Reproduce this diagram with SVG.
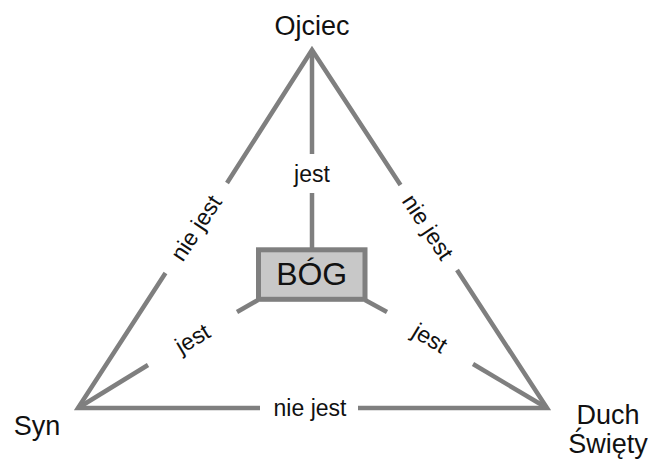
<svg xmlns="http://www.w3.org/2000/svg" width="650" height="461" viewBox="0 0 650 461">
<style>
.ln{stroke:#7f7f7f;stroke-width:4.5;fill:none;stroke-linecap:butt;stroke-linejoin:miter}
.lbl{font-family:"Liberation Sans",Arial,sans-serif;font-size:23px;fill:#111;text-anchor:middle}
.node{font-family:"Liberation Sans",Arial,sans-serif;font-size:27px;fill:#111;text-anchor:middle}
</style>
<rect width="650" height="461" fill="#fff"/>
<g id="connectors">
<polyline class="ln" points="227,183 312,50 400.5,185"/>
<line class="ln" x1="312" y1="50" x2="312" y2="154"/>
<line class="ln" x1="312" y1="193" x2="312" y2="248"/>
<polyline class="ln" points="165.5,273 78,408 260,408"/>
<polyline class="ln" points="457,270 547,408 358,408"/>
<line class="ln" x1="258" y1="300" x2="237" y2="312"/>
<line class="ln" x1="148" y1="365" x2="78" y2="408"/>
<line class="ln" x1="365" y1="300" x2="387" y2="312"/>
<line class="ln" x1="473" y1="364" x2="547" y2="408"/>
<text class="lbl" x="312" y="182">jest</text>
<text class="lbl" transform="translate(196,228) rotate(-56.8)" y="8">nie jest</text>
<text class="lbl" transform="translate(428,227) rotate(56.7)" y="8">nie jest</text>
<text class="lbl" x="310" y="416">nie jest</text>
<text class="lbl" transform="translate(192.5,338.5) rotate(-31.2)" y="8">jest</text>
<text class="lbl" transform="translate(430,338) rotate(31)" y="8">jest</text>
</g>
<g id="bog">
<rect x="258.5" y="249.8" width="106.5" height="49.5" fill="#c8c8c8" stroke="#7f7f7f" stroke-width="5"/>
<text x="311.7" y="285" font-family="Liberation Sans,Arial,sans-serif" font-size="32" fill="#111" text-anchor="middle">BÓG</text>
</g>
<g id="ojciec"><text class="node" x="312" y="35">Ojciec</text></g>
<g id="syn"><text class="node" x="37" y="435">Syn</text></g>
<g id="duch"><text class="node" x="608" y="424" font-size="26">Duch</text><text class="node" x="608" y="453" font-size="26">Święty</text></g>
</svg>
